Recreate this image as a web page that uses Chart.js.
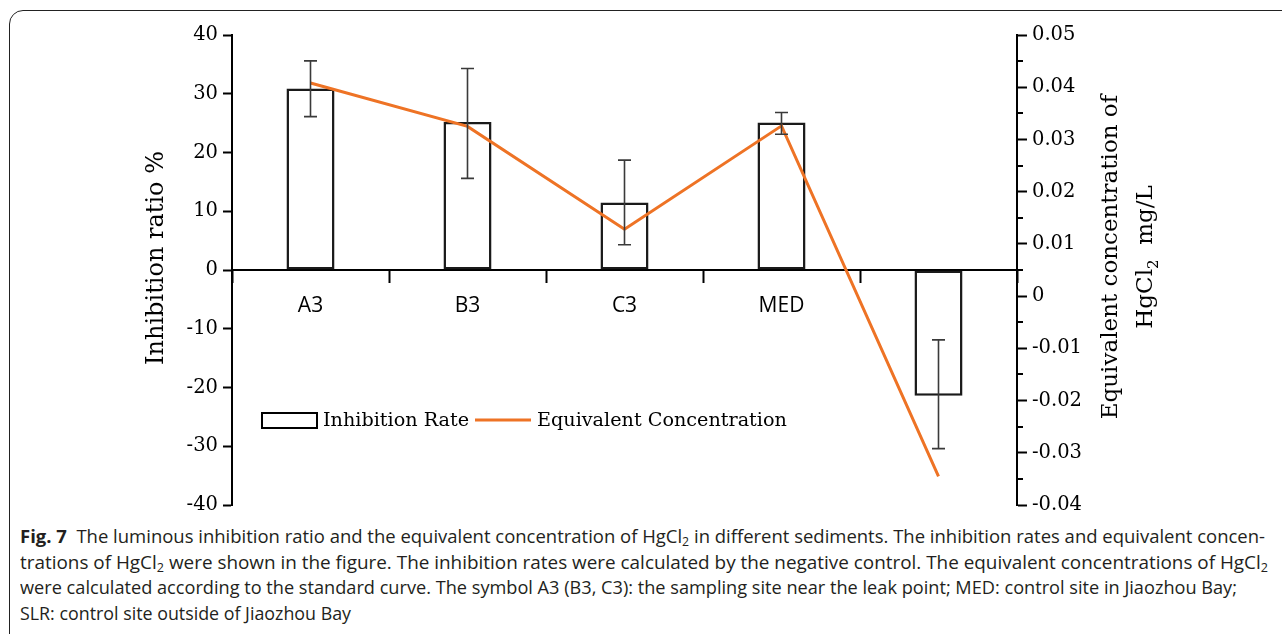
<!DOCTYPE html>
<html>
<head>
<meta charset="utf-8">
<script src="https://cdn.jsdelivr.net/npm/chart.js@4.4.1/dist/chart.umd.min.js"></script>
<style>
  html, body { margin: 0; padding: 0; background: #fff; overflow: hidden; }
  body { width: 1282px; height: 634px; position: relative; }
  #frame { position: absolute; left: 9px; top: 10px; width: 1300px; height: 700px;
           border: 1px solid #222; border-radius: 14px; box-sizing: border-box; }
  #wrap { position: absolute; left: 0; top: 0; width: 1282px; height: 530px; }
  #caption { position: absolute; left: 20px; top: 524px; font-family: "Liberation Sans Narrow", "Open Sans", sans-serif;
             font-size: 18px; color: #231f20; line-height: 25.5px; }
  .ln { white-space: nowrap; transform-origin: 0 0; width: max-content; }
  .ln sub { font-size: 12px; line-height: 0; vertical-align: -3px; }
</style>
</head>
<body>
<div id="frame"></div>
<div id="caption">
  <div class="ln" data-w="1245"><b>Fig. 7</b>&nbsp; The luminous inhibition ratio and the equivalent concentration of HgCl<sub>2</sub> in different sediments. The inhibition rates and equivalent concen-</div>
  <div class="ln" data-w="1248">trations of HgCl<sub>2</sub> were shown in the figure. The inhibition rates were calculated by the negative control. The equivalent concentrations of HgCl<sub>2</sub></div>
  <div class="ln" data-w="1217">were calculated according to the standard curve. The symbol A3 (B3, C3): the sampling site near the leak point; MED: control site in Jiaozhou Bay;</div>
  <div class="ln" data-w="331">SLR: control site outside of Jiaozhou Bay</div>
</div>
<div id="wrap"><canvas id="fig7"></canvas></div>
<script>
const categories = ['A3', 'B3', 'C3', 'MED', 'SLR'];
const inhibitionRate = [30.9, 25.2, 11.5, 25.1, -21.4];   // %
const inhibitionHigh = [35.6, 34.3, 18.7, 26.8, -11.9];
const inhibitionLow = [26.1, 15.6, 4.3, 23.1, -30.4];
const equivConc = [0.0408, 0.0325, 0.0128, 0.0326, -0.0345]; // mg/L
const leftTicks = [-40, -30, -20, -10, 0, 10, 20, 30, 40];
const rightTicks = [-0.04, -0.03, -0.02, -0.01, 0, 0.01, 0.02, 0.03, 0.04, 0.05];

const SERIF = '"DejaVu Serif", serif';
const ORANGE = '#ee7325';

// fit caption lines to the original line widths
document.querySelectorAll('.ln').forEach(el => {
  const w = el.getBoundingClientRect().width;
  el.style.transform = 'scaleX(' + (+el.dataset.w / w) + ')';
});

const extras = {
  id: 'extras',
  afterDatasetsDraw(chart) {
    const { ctx } = chart;
    const y = chart.scales.y;
    const bars = chart.getDatasetMeta(0).data;
    ctx.save();
    ctx.strokeStyle = '#3a3a3a';
    ctx.lineWidth = 1.6;
    bars.forEach((bar, i) => {
      const top = y.getPixelForValue(inhibitionHigh[i]);
      const bot = y.getPixelForValue(inhibitionLow[i]);
      ctx.beginPath();
      ctx.moveTo(bar.x, top); ctx.lineTo(bar.x, bot);
      ctx.moveTo(bar.x - 6.5, top); ctx.lineTo(bar.x + 6.5, top);
      ctx.moveTo(bar.x - 6.5, bot); ctx.lineTo(bar.x + 6.5, bot);
      ctx.stroke();
    });
    ctx.restore();
  },
  afterDraw(chart) {
    const { ctx } = chart;
    const y2 = chart.scales.y2;
    ctx.save();
    // minor ticks on right axis
    ctx.strokeStyle = '#000';
    ctx.lineWidth = 2;
    for (let k = 0; k < rightTicks.length - 1; k++) {
      const v = (rightTicks[k] + rightTicks[k + 1]) / 2;
      const py = Math.round(y2.getPixelForValue(v));
      ctx.beginPath();
      ctx.moveTo(y2.left, py); ctx.lineTo(y2.left + 6, py);
      ctx.stroke();
    }

    ctx.fillStyle = '#000';
    ctx.textBaseline = 'middle';
    // left axis title
    ctx.save();
    ctx.translate(157, 258);
    ctx.rotate(-Math.PI / 2);
    ctx.font = '24px ' + SERIF;
    ctx.textAlign = 'center';
    ctx.fillText('Inhibition ratio %', 0, 0);
    ctx.restore();

    // right axis title (two lines, bottom-to-top)
    ctx.save();
    ctx.translate(1111, 257);
    ctx.rotate(-Math.PI / 2);
    ctx.font = '23px ' + SERIF;
    ctx.textAlign = 'center';
    ctx.fillText('Equivalent concentration of', 0, 0);
    ctx.textAlign = 'left';
    const big = '23px ' + SERIF, small = '15px ' + SERIF;
    ctx.font = big; const w1 = ctx.measureText('HgCl').width;
    ctx.font = small; const w2 = ctx.measureText('2').width;
    ctx.font = big; const w3 = ctx.measureText('  mg/L').width;
    let x0 = -(w1 + w2 + w3) / 2;
    ctx.font = big; ctx.fillText('HgCl', x0, 35);
    ctx.font = small; ctx.fillText('2', x0 + w1, 43);
    ctx.font = big; ctx.fillText('  mg/L', x0 + w1 + w2, 35);
    ctx.restore();

    // legend
    ctx.font = '19.2px ' + SERIF;
    ctx.textAlign = 'left';
    ctx.strokeStyle = '#000';
    ctx.lineWidth = 2;
    ctx.strokeRect(262, 413, 55, 15);
    ctx.fillText(chart.data.datasets[0].label, 323, 421);
    ctx.strokeStyle = ORANGE;
    ctx.lineWidth = 3;
    ctx.beginPath(); ctx.moveTo(475, 420); ctx.lineTo(531, 420); ctx.stroke();
    ctx.fillText(chart.data.datasets[1].label, 537, 421);
    ctx.restore();
  }
};

new Chart(document.getElementById('fig7'), {
  type: 'bar',
  data: {
    labels: categories,
    datasets: [
      {
        label: 'Inhibition Rate',
        data: inhibitionRate,
        yAxisID: 'y',
        backgroundColor: '#fff',
        borderColor: '#1a1a1a',
        borderWidth: 2.5,
        borderSkipped: false,
        categoryPercentage: 1,
        barPercentage: 0.306,
        order: 1
      },
      {
        type: 'line',
        label: 'Equivalent Concentration',
        data: equivConc,
        yAxisID: 'y2',
        borderColor: ORANGE,
        borderWidth: 3,
        pointRadius: 0,
        tension: 0,
        order: 0
      }
    ]
  },
  options: {
    responsive: true,
    maintainAspectRatio: false,
    animation: false,
    layout: { padding: { top: 35, bottom: 25, left: 0, right: 0 } },
    plugins: { legend: { display: false }, tooltip: { enabled: false } },
    scales: {
      x: {
        position: { y: 0 },
        offset: true,
        grid: { offset: true, drawOnChartArea: false, tickLength: 12, tickColor: '#000', tickWidth: 2 },
        border: { color: '#000', width: 2 },
        ticks: { color: '#000', font: { family: '"Open Sans", sans-serif', size: 21 }, padding: 11 }
      },
      y: {
        position: 'left',
        min: -40, max: 40,
        afterBuildTicks: s => { s.ticks = leftTicks.map(v => ({ value: v })); },
        afterFit: s => { s.width = 232; },
        grid: { drawOnChartArea: false, tickLength: 9, tickColor: '#000', tickWidth: 2 },
        border: { color: '#000', width: 2 },
        ticks: { color: '#000', font: { family: SERIF, size: 19.5 }, padding: 5 }
      },
      y2: {
        position: 'right',
        min: -0.04, max: 0.05,
        afterBuildTicks: s => { s.ticks = rightTicks.map(v => ({ value: v })); },
        afterFit: s => { s.width = 265; },
        grid: { drawOnChartArea: false, tickLength: 10, tickColor: '#000', tickWidth: 2 },
        border: { color: '#000', width: 2 },
        ticks: {
          color: '#000', font: { family: SERIF, size: 19.5 }, padding: 5,
          callback: v => String(+v.toFixed(2))
        }
      }
    }
  },
  plugins: [extras]
});
</script>
</body>
</html>
